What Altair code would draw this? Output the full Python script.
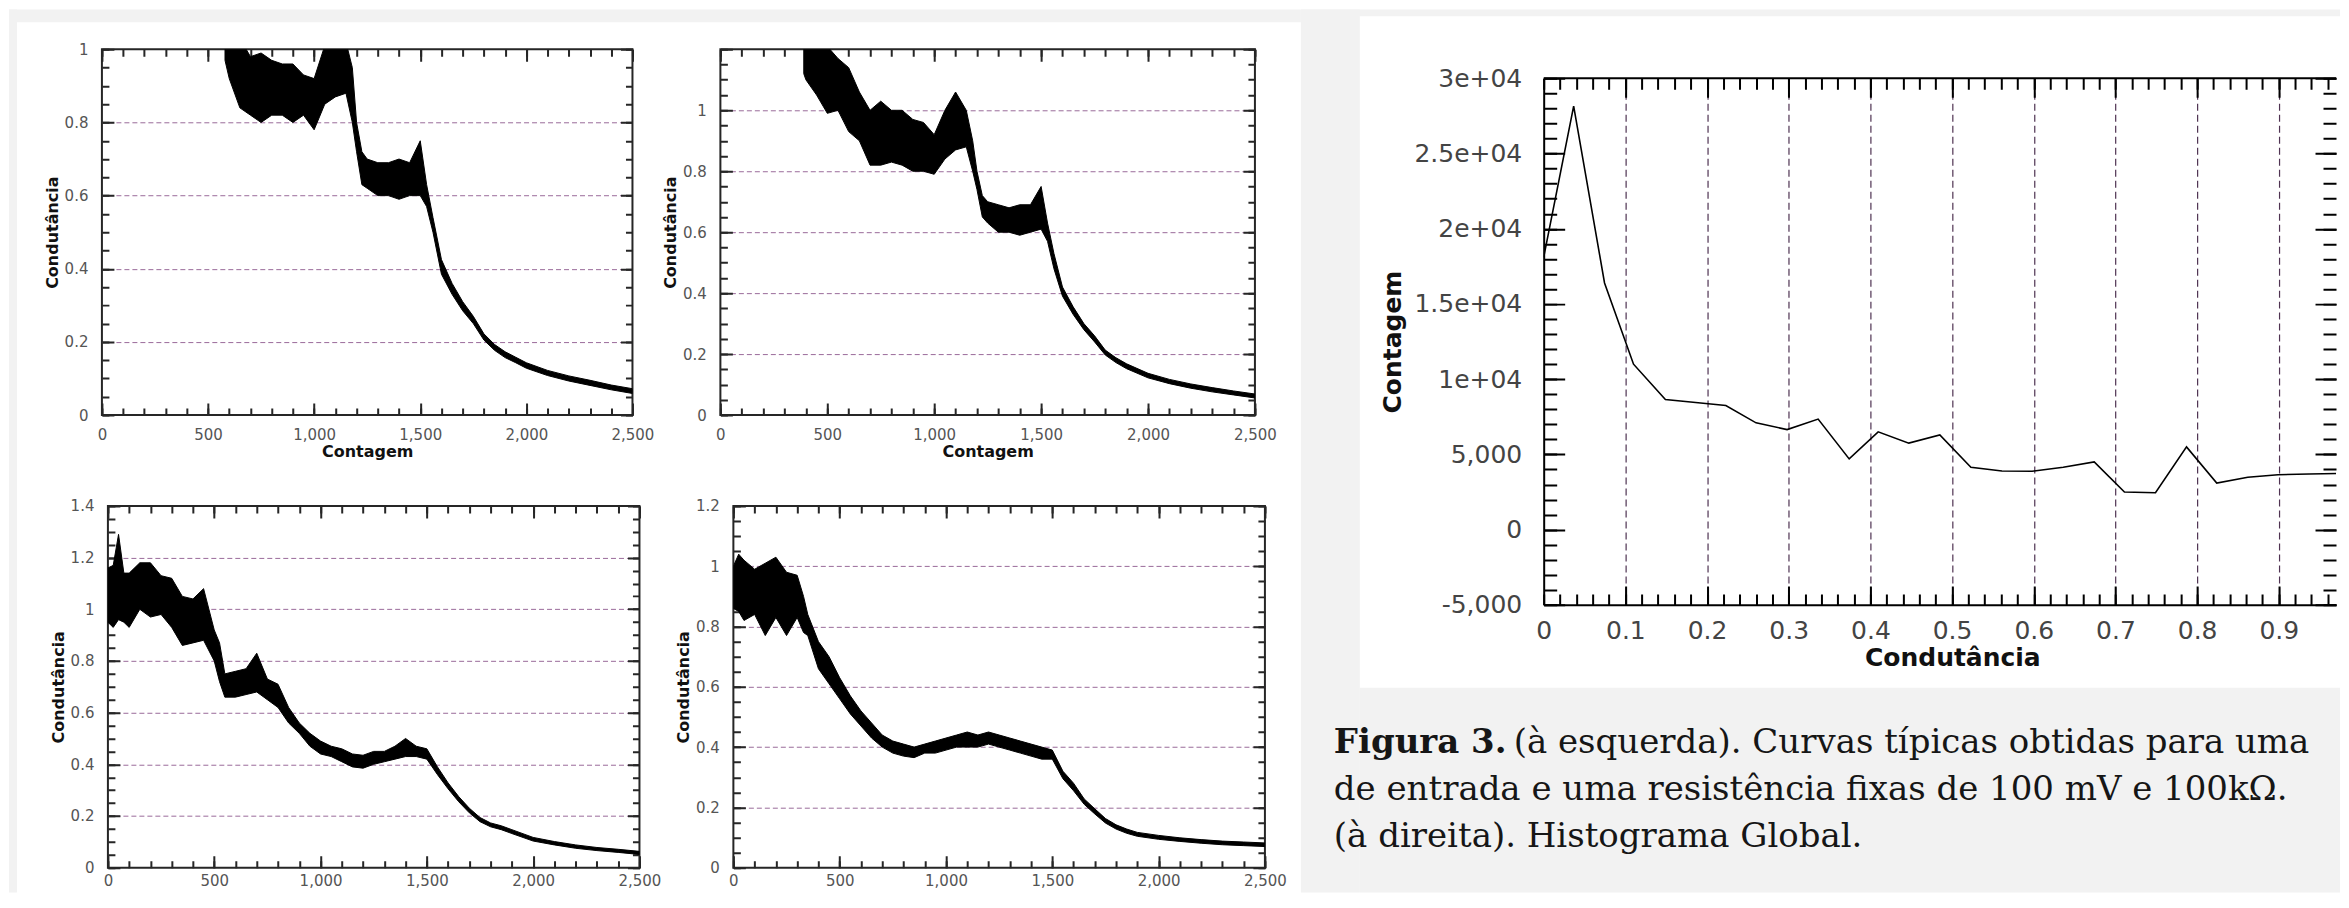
import altair as alt
import pandas as pd

# ---------------- data ----------------
# Top-left trace (Condutância vs Contagem), lower / upper edge of the noisy band
tl_x  = [580, 600, 650, 700, 750, 800, 850, 900, 950, 1000, 1050, 1100, 1150, 1180, 1200, 1225, 1250, 1300, 1350, 1400,
         1450, 1500, 1530, 1560, 1600, 1650, 1700, 1750, 1800, 1850, 1900, 1950, 2000, 2100, 2200, 2300, 2400, 2500]
tl_lo = [0.97, 0.92, 0.84, 0.82, 0.80, 0.82, 0.82, 0.80, 0.82, 0.78, 0.85, 0.87, 0.88, 0.80, 0.72, 0.63, 0.62, 0.60, 0.60, 0.59,
         0.60, 0.60, 0.57, 0.50, 0.385, 0.33, 0.285, 0.25, 0.205, 0.177, 0.157, 0.143, 0.128, 0.108, 0.093, 0.081, 0.069, 0.059]
tl_hi = [1.08, 1.05, 1.03, 0.98, 0.99, 0.97, 0.96, 0.96, 0.93, 0.92, 1.01, 1.02, 1.02, 0.95, 0.80, 0.72, 0.70, 0.69, 0.69, 0.70,
         0.69, 0.75, 0.63, 0.54, 0.425, 0.36, 0.31, 0.27, 0.222, 0.193, 0.173, 0.158, 0.143, 0.122, 0.107, 0.095, 0.082, 0.072]

# Top-right trace
tr_x  = [390, 400, 450, 500, 550, 600, 650, 700, 750, 800, 850, 900, 950, 1000, 1050, 1100, 1150, 1180, 1200, 1225,
         1250, 1300, 1350, 1400, 1450, 1500, 1530, 1560, 1600, 1650, 1700, 1750, 1800, 1850, 1900, 2000, 2100, 2200, 2300, 2400, 2500]
tr_lo = [1.12, 1.10, 1.05, 0.99, 1.00, 0.93, 0.90, 0.82, 0.82, 0.83, 0.82, 0.80, 0.80, 0.79, 0.84, 0.87, 0.88, 0.80, 0.74, 0.65,
         0.63, 0.60, 0.60, 0.59, 0.60, 0.61, 0.57, 0.48, 0.39, 0.33, 0.28, 0.24, 0.197, 0.172, 0.152, 0.122, 0.103, 0.088, 0.076, 0.066, 0.056]
tr_hi = [1.25, 1.25, 1.22, 1.21, 1.17, 1.14, 1.06, 1.00, 1.03, 1.00, 1.00, 0.97, 0.96, 0.92, 1.00, 1.06, 1.00, 0.90, 0.80, 0.72,
         0.70, 0.69, 0.68, 0.69, 0.69, 0.75, 0.63, 0.53, 0.42, 0.355, 0.30, 0.26, 0.213, 0.188, 0.168, 0.137, 0.117, 0.102, 0.09, 0.079, 0.069]

# Bottom-left trace
bl_x  = [0, 25, 50, 75, 100, 150, 200, 250, 300, 350, 400, 450, 500, 525, 550, 600, 650, 700, 750, 800,
         850, 900, 950, 1000, 1050, 1100, 1150, 1200, 1250, 1300, 1350, 1400, 1450, 1500, 1550, 1600, 1650, 1700, 1750, 1800,
         1850, 1900, 2000, 2100, 2200, 2300, 2400, 2500]
bl_lo = [0.95, 0.93, 0.96, 0.95, 0.93, 1.00, 0.97, 0.98, 0.93, 0.86, 0.87, 0.88, 0.80, 0.72, 0.66, 0.66, 0.67, 0.68, 0.65, 0.62,
         0.56, 0.52, 0.47, 0.44, 0.43, 0.41, 0.39, 0.385, 0.40, 0.41, 0.42, 0.43, 0.43, 0.42, 0.36, 0.305, 0.255, 0.212, 0.178, 0.158,
         0.147, 0.132, 0.103, 0.088, 0.075, 0.066, 0.059, 0.051]
bl_hi = [1.16, 1.17, 1.29, 1.14, 1.14, 1.18, 1.18, 1.13, 1.12, 1.05, 1.04, 1.08, 0.92, 0.87, 0.75, 0.76, 0.77, 0.83, 0.73, 0.71,
         0.62, 0.56, 0.52, 0.49, 0.47, 0.46, 0.44, 0.435, 0.45, 0.45, 0.47, 0.50, 0.47, 0.46, 0.39, 0.328, 0.275, 0.23, 0.194, 0.173,
         0.162, 0.147, 0.117, 0.101, 0.088, 0.078, 0.071, 0.063]

# Bottom-right trace
br_x  = [0, 25, 50, 100, 150, 200, 250, 300, 330, 350, 400, 450, 500, 550, 600, 650, 700, 750, 800, 850,
         900, 950, 1000, 1050, 1100, 1150, 1200, 1250, 1300, 1350, 1400, 1450, 1500, 1550, 1600, 1650, 1700, 1750, 1800, 1850,
         1900, 2000, 2100, 2200, 2300, 2400, 2500]
br_lo = [0.86, 0.85, 0.82, 0.84, 0.77, 0.83, 0.77, 0.83, 0.78, 0.77, 0.66, 0.61, 0.56, 0.51, 0.47, 0.43, 0.40, 0.38, 0.37, 0.365,
         0.38, 0.38, 0.39, 0.40, 0.40, 0.40, 0.41, 0.40, 0.39, 0.38, 0.37, 0.36, 0.36, 0.295, 0.255, 0.21, 0.178, 0.148, 0.128, 0.114,
         0.104, 0.094, 0.087, 0.081, 0.076, 0.073, 0.07]
br_hi = [1.00, 1.04, 1.02, 0.99, 1.01, 1.03, 0.98, 0.97, 0.90, 0.84, 0.75, 0.70, 0.63, 0.57, 0.52, 0.48, 0.44, 0.42, 0.41, 0.40,
         0.41, 0.42, 0.43, 0.44, 0.45, 0.44, 0.45, 0.44, 0.43, 0.42, 0.41, 0.40, 0.39, 0.32, 0.28, 0.228, 0.195, 0.163, 0.142, 0.128,
         0.117, 0.107, 0.099, 0.093, 0.088, 0.085, 0.082]

# Global histogram (Contagem vs Condutância)
hist_x = [0.0, 0.0367, 0.0745, 0.110, 0.149, 0.186, 0.223, 0.260, 0.298, 0.336, 0.374, 0.4095, 0.447, 0.485,
          0.523, 0.561, 0.598, 0.636, 0.674, 0.711, 0.749, 0.787, 0.824, 0.862, 0.899, 0.937, 0.974, 1.012]
hist_y = [18100, 28150, 16400, 11000, 8650, 8450, 8250, 7100, 6650, 7350, 4700, 6500, 5750, 6300,
          4150, 3900, 3880, 4150, 4500, 2500, 2450, 5500, 3100, 3480, 3650, 3700, 3730, 3760]

# tick labels / tick positions
trace_x_labels = [0, 500, 1000, 1500, 2000, 2500]
trace_x_minor = [0, 100, 200, 300, 400, 500, 600, 700, 800, 900, 1000, 1100, 1200, 1300, 1400, 1500,
                 1600, 1700, 1800, 1900, 2000, 2100, 2200, 2300, 2400, 2500]
hist_x_labels = [0, 0.1, 0.2, 0.3, 0.4, 0.5, 0.6, 0.7, 0.8, 0.9]
hist_y_labels = [-5000, 0, 5000, 10000, 15000, 20000, 25000, 30000]

caption_bold = "Figura 3."
caption_1 = "(à esquerda). Curvas típicas obtidas para uma"
caption_2 = "de entrada e uma resistência fixas de 100 mV e 100kΩ."
caption_3 = "(à direita). Histograma Global."

# ---------------- style ----------------
FONT = "DejaVu Sans"
SERIF = "DejaVu Serif"
LABEL_C = "#555555"
FRAME_C = "#262626"
GRID_C = "#9a6a9a"
HGRID_C = "#4f3352"
BG = "#f2f2f2"
ONE = pd.DataFrame({"a": [0]})


def y_minor(top):
    return [round(0.05 * k, 2) for k in range(int(round(top / 0.05)) + 1)]


def grid_axis(orient, values, color, dash, width):
    return alt.Axis(orient=orient, values=values, labels=False, title=None, domain=False,
                    ticks=False, grid=True, gridColor=color, gridDash=dash, gridWidth=width)


def teeth_axis(orient, values, color, L, span, width=2):
    # gnuplot-style inward ticks: a grid line dashed so that only a piece of
    # length L is drawn at each end of the line (one at each side of the frame)
    return grid_axis(orient, values, color, [L, span - 2 * L, L, 4000], width)


def blank_axis(orient):
    return alt.Axis(orient=orient, labels=False, title=None, domain=False, ticks=False, grid=False)


def guide_layer(df, xsc, ysc, yfield, xaxis, yaxis):
    return alt.Chart(df).mark_point(opacity=0, clip=True).encode(
        x=alt.X("x:Q", scale=xsc, axis=xaxis), y=alt.Y(yfield, scale=ysc, axis=yaxis))


def trace_panel(xs, lo, hi, ytop, ylabels, gridvals, w, h, xtitle, xpad, extra=()):
    df = pd.DataFrame({"x": xs, "lo": lo, "hi": hi})
    xsc = alt.Scale(domain=[0, 2500], nice=False, zero=False)
    ysc = alt.Scale(domain=[0, ytop], nice=False, zero=False)
    xaxis_kw = dict(orient="bottom", values=trace_x_labels, format=",d", labelFlush=False, labelOverlap=False,
                    labelFontSize=15, labelColor=LABEL_C, labelPadding=xpad, ticks=False, tickSize=0,
                    domain=False, grid=False)
    if xtitle:
        xaxis_kw.update(title=xtitle, titleFontSize=16, titleFontWeight="bold", titleColor="#111111", titlePadding=2)
    else:
        xaxis_kw.update(title=None)
    main = alt.Chart(df).mark_area(color="black", stroke="black", strokeWidth=1, clip=True).encode(
        x=alt.X("x:Q", scale=xsc, axis=alt.Axis(**xaxis_kw)),
        y=alt.Y("hi:Q", scale=ysc, axis=alt.Axis(
            orient="left", values=ylabels, format="~g", labelFontSize=15, labelColor=LABEL_C,
            labelPadding=14, labelOverlap=False, ticks=False, tickSize=0, domain=False, grid=False,
            title="Condutância", titleFontSize=16, titleFontWeight="bold", titleColor="#111111", titlePadding=4)),
        y2="lo:Q",
    )
    ymaj = [round(0.2 * k, 1) for k in range(int(round(ytop / 0.2)) + 1)]
    ymin = y_minor(ytop)
    C = FRAME_C
    layers = list(extra) + [
        main,
        guide_layer(df, xsc, ysc, "lo:Q", blank_axis("top"), grid_axis("right", gridvals, GRID_C, [5, 3], 1)),
        guide_layer(df, xsc, ysc, "lo:Q", teeth_axis("top", trace_x_minor, C, 7, h),
                    teeth_axis("right", ymin, C, 7, w)),
        guide_layer(df, xsc, ysc, "lo:Q", teeth_axis("bottom", trace_x_labels, C, 12, h),
                    teeth_axis("left", ymaj, C, 12, w)),
    ]
    return alt.layer(*layers).properties(width=w, height=h)


def grect(x1, x2, y1, y2):
    return alt.Chart(ONE).mark_rect(color=BG, clip=False).encode(
        x=alt.value(x1), x2=alt.value(x2), y=alt.value(y1), y2=alt.value(y2))


def spacer(w, h):
    return alt.Chart(ONE).mark_point(opacity=0).encode(x=alt.value(0), y=alt.value(0)).properties(
        width=w, height=h, view=alt.ViewBackground(stroke="transparent"))


# grey page areas (drawn from the first panel, below everything that follows)
bg_layers = [
    grect(-93, -85, -40, 844),
    grect(-93, 1200, -40, -27),
    grect(1200, 2240, -40, -33),
    grect(1200, 1259, -40, 844),
    grect(1259, 2240, 639, 844),
]

tl = trace_panel(tl_x, tl_lo, tl_hi, 1.0, [0, 0.2, 0.4, 0.6, 0.8, 1.0], [0.2, 0.4, 0.6, 0.8],
                 531, 366, "Contagem", 12, extra=bg_layers)
tr = trace_panel(tr_x, tr_lo, tr_hi, 1.2, [0, 0.2, 0.4, 0.6, 0.8, 1.0], [0.2, 0.4, 0.6, 0.8, 1.0],
                 535, 366, "Contagem", 12)
bl = trace_panel(bl_x, bl_lo, bl_hi, 1.4, [0, 0.2, 0.4, 0.6, 0.8, 1.0, 1.2, 1.4], [0.2, 0.4, 0.6, 0.8, 1.0, 1.2],
                 532, 362, None, 6)
br = trace_panel(br_x, br_lo, br_hi, 1.2, [0, 0.2, 0.4, 0.6, 0.8, 1.0, 1.2], [0.2, 0.4, 0.6, 0.8, 1.0],
                 532, 362, None, 6)

# ---------------- histogram ----------------
HW, HH = 793, 527
hdf = pd.DataFrame({"x": hist_x, "y": hist_y})
hxs = alt.Scale(domain=[0, 0.97], nice=False, zero=False)
hys = alt.Scale(domain=[-5000, 30000], nice=False, zero=False)
ylab_expr = ("abs(datum.value) >= 10000 ? replace(format(datum.value, '~e'), 'e+', 'e+0') : "
             "replace(format(datum.value, ','), '\u2212', '-')")
hmain = alt.Chart(hdf).mark_line(color="black", strokeWidth=1.6, clip=True).encode(
    x=alt.X("x:Q", scale=hxs, axis=alt.Axis(
        orient="bottom", values=hist_x_labels, format="~g", labelFlush=False, labelOverlap=False,
        labelFontSize=25, labelColor="#444444", labelPadding=14, ticks=False, tickSize=0,
        domain=True, domainColor="black", domainWidth=2, grid=False,
        title="Condutância", titleX=409, titleFontSize=25, titleFontWeight="bold",
        titleColor="#111111", titlePadding=2)),
    y=alt.Y("y:Q", scale=hys, axis=alt.Axis(
        orient="left", values=hist_y_labels, labelExpr=ylab_expr, labelFontSize=25, labelColor="#444444",
        labelPadding=22, labelOverlap=False, ticks=False, tickSize=0,
        domain=True, domainColor="black", domainWidth=2, grid=False,
        title="Contagem", titleFontSize=25, titleFontWeight="bold", titleColor="#111111", titlePadding=8)),
)
h_xmaj = [0.1, 0.2, 0.3, 0.4, 0.5, 0.6, 0.7, 0.8, 0.9]
h_xmin = [round(0.02 * k, 2) for k in range(0, 49)]
h_ymaj = [-5000, 0, 5000, 10000, 15000, 20000, 25000, 30000]
h_ymin = [1000 * k for k in range(-5, 31)]

caption_layers = [
    alt.Chart(pd.DataFrame({"t": [caption_bold]})).mark_text(
        align="left", baseline="alphabetic", font=SERIF, fontSize=34, fontWeight="bold", color="#161616"
    ).encode(x=alt.value(-210), y=alt.value(675), text="t:N"),
    alt.Chart(pd.DataFrame({"t": [caption_1]})).mark_text(
        align="left", baseline="alphabetic", font=SERIF, fontSize=34, color="#161616"
    ).encode(x=alt.value(-30), y=alt.value(675), text="t:N"),
    alt.Chart(pd.DataFrame({"t": [caption_2]})).mark_text(
        align="left", baseline="alphabetic", font=SERIF, fontSize=34, color="#161616"
    ).encode(x=alt.value(-210), y=alt.value(722), text="t:N"),
    alt.Chart(pd.DataFrame({"t": [caption_3]})).mark_text(
        align="left", baseline="alphabetic", font=SERIF, fontSize=34, color="#161616"
    ).encode(x=alt.value(-210), y=alt.value(769), text="t:N"),
]

top_frame = alt.Chart(ONE).mark_rule(color="black", strokeWidth=2).encode(
    x=alt.value(0), x2=alt.value(HW), y=alt.value(0))

K = "black"
hist = alt.layer(
    hmain,
    guide_layer(hdf, hxs, hys, "y:Q", grid_axis("top", h_xmaj, HGRID_C, [7, 4], 1.2), blank_axis("right")),
    guide_layer(hdf, hxs, hys, "y:Q", teeth_axis("top", h_xmin, K, 11, HH), teeth_axis("right", h_ymin, K, 13, HW)),
    guide_layer(hdf, hxs, hys, "y:Q", teeth_axis("bottom", h_xmaj, K, 19, HH), teeth_axis("left", h_ymaj, K, 21, HW)),
    top_frame,
    *caption_layers,
).properties(width=HW, height=HH, view=alt.ViewBackground(stroke="transparent"))

# ---------------- layout ----------------
# With "flush" bounds a nested concat block counts as zero size, so the
# spacing of an outer concat is the offset of its second block.
row1 = alt.hconcat(tl, tr, spacing=88, bounds="flush")
row2 = alt.hconcat(spacer(6, 1), alt.hconcat(bl, br, spacing=94, bounds="flush"), spacing=0, bounds="flush")
left = alt.vconcat(row1, row2, spacing=457, bounds="flush")
right = alt.vconcat(spacer(1, 29), hist, spacing=0, bounds="flush")

chart = alt.hconcat(left, right, spacing=1443, bounds="flush", padding=0).configure(
    background="white"
).configure_axis(labelFont=FONT, titleFont=FONT).configure_view(stroke=FRAME_C, strokeWidth=2)

chart.save("out.html", embed_options={"renderer": "svg", "actions": False})
